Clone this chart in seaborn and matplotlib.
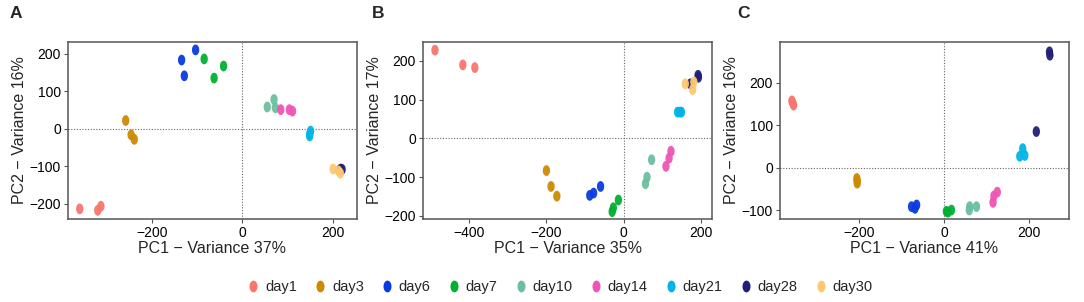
"""PCA scatter of samples by day, three panels (A, B, C) with a shared legend.
"""

import numpy as np
import pandas as pd
import seaborn as sns
import matplotlib
matplotlib.use("Agg")
import matplotlib.pyplot as plt
from matplotlib.path import Path
from matplotlib.lines import Line2D

days = ["day1", "day3", "day6", "day7", "day10", "day14", "day21", "day28", "day30"]
day_colors = ["#F8766D", "#CC8A00", "#0A3BE0", "#00B032", "#6DBF9F",
              "#EE55B5", "#00B5E5", "#231F78", "#FDC870"]

# panel A
a_day = ["day1"] * 3 + ["day3"] * 3 + ["day6"] * 3 + ["day7"] * 3 + ["day10"] * 3 \
    + ["day14"] * 3 + ["day21"] * 3 + ["day28"] * 3 + ["day30"] * 3
a_pc1 = [-361, -321, -314, -259, -247, -240, -135, -104, -129, -85, -42, -63,
         55, 70, 73, 85, 104, 111, 151, 149, 149, 221, 218, 215, 201, 217, 213]
a_pc2 = [-213, -217, -206, 22, -16, -28, 183, 210, 141, 186, 167, 135,
         58, 78, 56, 51, 51, 47, -6, -14, -19, -108, -107, -110, -107, -118, -112]

# panel B
b_day = ["day1"] * 3 + ["day3"] * 3 + ["day6"] * 3 + ["day7"] * 3 + ["day10"] * 3 \
    + ["day14"] * 3 + ["day21"] * 3 + ["day28"] * 3 + ["day30"] * 3
b_pc1 = [-488, -416, -385, -200, -188, -173, -88, -78, -60, -30, -27, -14,
         56, 60, 72, 109, 117, 122, 139, 145, 149, 192, 172, 193, 159, 181, 178]
b_pc2 = [228, 190, 183, -83, -124, -149, -147, -141, -124, -189, -179, -159,
         -117, -100, -55, -72, -51, -33, 68, 68, 68, 163, 141, 158, 141, 146, 126]

# panel C
c_day = ["day1"] * 3 + ["day3"] * 3 + ["day6"] * 3 + ["day7"] * 3 + ["day10"] * 3 \
    + ["day14"] * 3 + ["day21"] * 3 + ["day28"] * 3
c_pc1 = [-359, -357, -355, -206, -205, -205, -77, -65, -69, 5, 17, 9,
         60, 76, 59, 115, 117, 125, 185, 178, 190, 248, 249, 217]
c_pc2 = [157, 152, 147, -25, -31, -36, -91, -87, -95, -102, -99, -104,
         -91, -91, -99, -81, -66, -57, 45, 27, 29, 272, 264, 85]

panels = [
    ("A", a_day, a_pc1, a_pc2, "37%", "16%", (-387, 254), (-240, 231),
     [-200, 0, 200], [-200, -100, 0, 100, 200]),
    ("B", b_day, b_pc1, b_pc2, "35%", "17%", (-519, 228), (-208, 249),
     [-400, -200, 0, 200], [-200, -100, 0, 100, 200]),
    ("C", c_day, c_pc1, c_pc2, "41%", "16%", (-387, 294), (-120, 295),
     [-200, 0, 200], [-100, 0, 100, 200]),
]

sns.set_style("white")
plt.rcParams["font.family"] = ["Liberation Sans", "DejaVu Sans"]

# tall oval marker
t = np.linspace(0, 2 * np.pi, 40)
oval = Path(np.column_stack([0.68 * np.cos(t), np.sin(t)]), closed=True)

palette = dict(zip(days, day_colors))
fig = plt.figure(figsize=(10.84, 3.02), dpi=100)
lefts = [68, 423, 780]
letter_x = [16, 378, 743]

for i, (letter, d, x, y, vx, vy, xlim, ylim, xt, yt) in enumerate(panels):
    ax = fig.add_axes([lefts[i] / 1084, 1 - 219 / 302, 289 / 1084, 177 / 302])
    df = pd.DataFrame({"PC1": x, "PC2": y, "day": d})
    ax.axhline(0, color="#666666", ls=(0, (1, 1.5)), lw=0.8, zorder=0)
    ax.axvline(0, color="#666666", ls=(0, (1, 1.5)), lw=0.8, zorder=0)
    sns.scatterplot(data=df, x="PC1", y="PC2", hue="day", palette=palette,
                    marker=oval, s=60, linewidth=0, alpha=0.95,
                    legend=False, ax=ax)
    ax.set_xlim(*xlim)
    ax.set_ylim(*ylim)
    ax.set_xticks(xt)
    ax.set_yticks(yt)
    ax.set_xticklabels([str(v).replace("-", "\u2212") for v in xt])
    ax.set_yticklabels([str(v).replace("-", "\u2212") for v in yt])
    ax.tick_params(axis="both", labelsize=10, length=3, width=0.8,
                   color="#555555", labelcolor="black", pad=2,
                   bottom=True, left=True)
    for sp in ax.spines.values():
        sp.set_color("#555555")
        sp.set_linewidth(1.1)
    ax.set_xlabel(f"PC1 \u2212 Variance {vx}", fontsize=11.5, labelpad=1)
    ax.set_ylabel(f"PC2 \u2212 Variance {vy}", fontsize=11.5, labelpad=2)
    fig.text(letter_x[i] / 1084, 1 - 14 / 302, letter, fontsize=12.5,
             fontweight="bold", ha="center", va="center")

handles = [Line2D([], [], marker=oval, ls="none", color=c, markersize=8.5,
                  markeredgewidth=0) for c in day_colors]
fig.legend(handles, days, loc="center", bbox_to_anchor=(0.5175, 1 - 287 / 302),
           ncol=9, frameon=False, fontsize=10.5, handlelength=0.6,
           handletextpad=0.5, columnspacing=1.3)

plt.savefig("out.png", dpi=100)
